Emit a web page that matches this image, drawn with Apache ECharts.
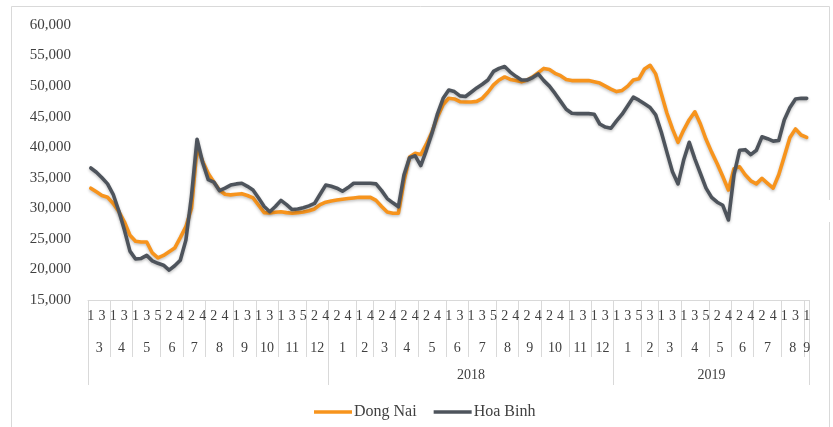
<!DOCTYPE html>
<html>
<head>
<meta charset="utf-8">
<script src="https://cdn.jsdelivr.net/npm/echarts@6/dist/echarts.min.js"></script>
<style>
html,body{margin:0;padding:0;background:#fff;}
#chart{width:833px;height:427px;}
</style>
</head>
<body>
<div id="chart"></div>
<script>
// Week-in-month labels (one per weekly observation)
const weekLabels = [
  // 2017: Mar..Dec
  '1','2','3','4', '1','2','3','4', '1','2','3','4','5', '1','2','3','4', '1','2','3','4',
  '1','2','3','4','5', '1','2','3','4', '1','2','3','4', '1','2','3','4','5', '1','2','3','4',
  // 2018
  '1','2','3','4','5', '1','3','4', '1','2','3','4', '1','2','3','4', '1','2','3','4','5',
  '1','2','3','4', '1','2','3','4','5', '1','2','3','4', '1','2','3','4', '1','2','3','4','5',
  '1','2','3','4', '1','2','3','4',
  // 2019
  '1','2','3','4','5', '1','3','4', '1','2','3','4', '1','2','3','4','5', '1','2','3','4',
  '1','2','3','4', '1','2','3','4','5', '1','2','3','4', '1'
];
const monthNames = ['3','4','5','6','7','8','9','10','11','12',
  '1','2','3','4','5','6','7','8','9','10','11','12',
  '1','2','3','4','5','6','7','8','9'];
const monthWeekCounts = [4,4,5,4,4,5,4,4,5,4,
  5,3,4,4,5,4,5,4,4,5,4,4,
  5,3,4,5,4,4,5,4,1];
const yearNames = ['', '2018', '2019'];
const yearMonthCounts = [10, 12, 9];

const dongNai = [
33300,32700,32100,31800,30800,29500,27800,25600,24600,24500,
24500,22700,21900,22300,22900,23500,25200,27000,30000,40000,
37700,35700,34300,33000,32300,32200,32300,32400,32100,31700,
30500,29300,29250,29350,29450,29300,29200,29300,29400,29600,
29900,30600,31000,31200,31350,31500,31600,31700,31800,31800,
31800,31300,30300,29400,29200,29200,34500,38400,39000,38800,
40500,42500,45000,47000,48000,47900,47450,47400,47400,47500,
48000,49000,50200,51000,51500,51100,50900,50700,51000,51500,
52200,52900,52700,52100,51700,51100,50900,50900,50900,50900,
50700,50500,50000,49500,49100,49300,50000,51000,51200,52800,
53400,52000,48800,45600,43000,40800,42800,44500,45800,43800,
41300,39200,37300,35200,33000,36500,36800,35500,34500,34000,
34900,34100,33300,35500,38500,41600,43000,42000,41600
];
const hoaBinh = [
36600,35900,35000,34000,32300,29600,26500,23000,21700,21800,
22300,21400,21000,20700,19900,20600,21500,24800,32000,41300,
37500,34700,34300,32900,33300,33800,34000,34100,33600,33000,
31700,30300,29450,30300,31300,30600,29800,29900,30100,30400,
30800,32300,33800,33600,33300,32800,33400,34100,34100,34100,
34100,34000,32900,31600,30900,30250,35500,38300,38600,37000,
39500,42300,45500,48000,49350,49100,48400,48300,49000,49700,
50300,51000,52400,52900,53200,52300,51600,51000,51000,51400,
52000,50900,50000,48800,47500,46200,45550,45500,45500,45500,
45400,43800,43300,43100,44300,45400,46800,48200,47700,47100,
46500,45300,42500,39200,36000,34000,37900,40800,38100,35700,
33300,31800,31000,30500,28100,35500,39500,39600,38800,39500,
41700,41400,41000,41100,44500,46500,47900,48000,48000
];
const yTicks = {min: 15000, max: 60000, step: 5000};

// ---- build multi-level axis helpers (half-week resolution points) ----
const N = weekLabels.length;
const M = 2 * N + 1;
const monthAxisData = new Array(M).fill('');
const monthTicks = new Set([0]);
const yearAxisData = new Array(M).fill('');
const yearTicks = new Set([0]);
let s = 0, mi = 0;
yearNames.forEach((y, yi) => {
  const ys = s;
  for (let k = 0; k < yearMonthCounts[yi]; k++, mi++) {
    const e = s + monthWeekCounts[mi];
    monthAxisData[s + e] = monthNames[mi];
    monthTicks.add(2 * e);
    s = e;
  }
  if (y) yearAxisData[ys + s] = y;
  yearTicks.add(2 * s);
});

const FONT = "'Liberation Serif', 'Times New Roman', serif";
const TXT = '#404040';
const chart = echarts.init(document.getElementById('chart'), null, {renderer: 'canvas'});
chart.setOption({
  animation: false,
  backgroundColor: '#fff',
  textStyle: {fontFamily: FONT},
  grid: {left: 88, right: 23.5, top: 25, bottom: 127, outerBoundsMode: 'none', containLabel: false},
  legend: {
    data: ['Dong Nai', 'Hoa Binh'],
    left: 309, top: 399,
    icon: 'rect', itemWidth: 38, itemHeight: 3.5, itemGap: 17,
    textStyle: {fontFamily: FONT, fontSize: 16, color: TXT, padding: [0, 0, 0, -3]}
  },
  xAxis: [
    {
      type: 'category', data: weekLabels, boundaryGap: true,
      axisLine: {show: true, lineStyle: {color: '#d9d9d9', width: 1}},
      axisTick: {show: false},
      axisLabel: {interval: 1, margin: 9, fontFamily: FONT, fontSize: 14, color: TXT}
    },
    {
      type: 'category', data: monthAxisData, boundaryGap: false, position: 'bottom', offset: 0,
      axisLine: {show: false},
      axisTick: {show: true, length: 57, interval: (i) => monthTicks.has(i), lineStyle: {color: '#d9d9d9', width: 1}},
      axisLabel: {interval: (i) => monthAxisData[i] !== '', margin: 41, fontFamily: FONT, fontSize: 14, color: TXT}
    },
    {
      type: 'category', data: yearAxisData, boundaryGap: false, position: 'bottom', offset: 0,
      axisLine: {show: false},
      axisTick: {show: true, length: 85, interval: (i) => yearTicks.has(i), lineStyle: {color: '#d9d9d9', width: 1}},
      axisLabel: {interval: (i) => yearAxisData[i] !== '', margin: 68, fontFamily: FONT, fontSize: 14, color: TXT}
    }
  ],
  yAxis: {
    type: 'value', min: yTicks.min, max: yTicks.max, interval: yTicks.step,
    axisLine: {show: false}, axisTick: {show: false}, splitLine: {show: false},
    axisLabel: {margin: 17, fontFamily: FONT, fontSize: 15, color: TXT,
      formatter: (v) => v.toLocaleString('en-US')}
  },
  series: [
    {
      name: 'Dong Nai', type: 'line', data: dongNai, xAxisIndex: 0,
      showSymbol: false, symbol: 'none', smooth: false,
      itemStyle: {color: '#F7941D'},
      lineStyle: {color: '#F7941D', width: 3.6, cap: 'round', join: 'round',
        shadowColor: 'rgba(0,0,0,0.25)', shadowBlur: 3, shadowOffsetY: 1.5}
    },
    {
      name: 'Hoa Binh', type: 'line', data: hoaBinh, xAxisIndex: 0,
      showSymbol: false, symbol: 'none', smooth: false,
      itemStyle: {color: '#4E545C'},
      lineStyle: {color: '#4E545C', width: 3.6, cap: 'round', join: 'round',
        shadowColor: 'rgba(0,0,0,0.25)', shadowBlur: 3, shadowOffsetY: 1.5}
    }
  ],
  graphic: [
    {type: 'rect', silent: true, z: -1, shape: {x: 11.5, y: 6.5, width: 818, height: 440},
      style: {fill: null, stroke: '#d9d9d9', lineWidth: 1}},
    {type: 'rect', silent: true, z: 0, shape: {x: 827, y: 200, width: 5, height: 22},
      style: {fill: '#fff'}}
  ]
});
</script>
</body>
</html>
